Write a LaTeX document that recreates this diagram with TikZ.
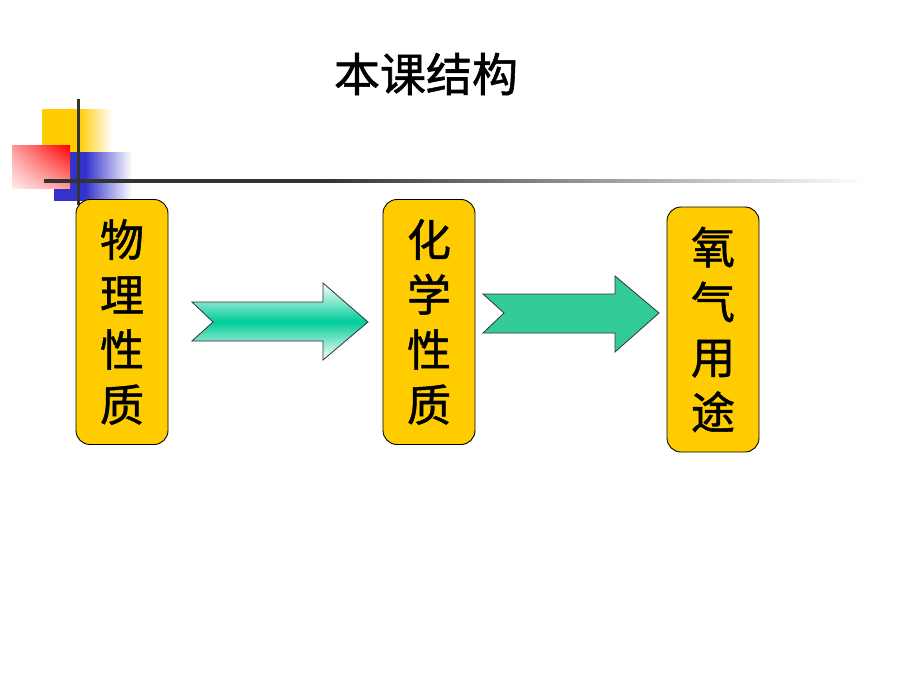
\documentclass[tikz,border=0pt]{standalone}
\usepackage{fontspec}
\newfontfamily\cjk{Noto Sans CJK SC}[FakeBold=1.2]
\usetikzlibrary{shadings}
\definecolor{boxyellow}{RGB}{255,204,0}
\definecolor{deckred}{RGB}{255,0,0}
\definecolor{deckblue}{RGB}{51,51,204}
\definecolor{linegray}{RGB}{51,51,51}
\definecolor{arrowgreen}{RGB}{0,204,153}
\definecolor{arrowgreenB}{RGB}{51,204,153}
\pgfdeclarehorizontalshading{linefade}{100bp}{color(0bp)=(linegray); color(42bp)=(linegray); color(75bp)=(white); color(100bp)=(white)}
\pgfdeclarehorizontalshading{yellowfade}{100bp}{color(0bp)=(boxyellow); color(51bp)=(boxyellow); color(75bp)=(white); color(100bp)=(white)}
\pgfdeclarehorizontalshading{bluefade}{100bp}{color(0bp)=(deckblue); color(45bp)=(deckblue); color(75bp)=(white); color(100bp)=(white)}
\tikzset{
  textbox/.style={draw=black, line width=0.9pt, fill=boxyellow, rounded corners=14pt,
    minimum width=92pt, minimum height=245pt, inner sep=0pt, align=center,
    font=\cjk\fontsize{44}{55}\selectfont},
  blockarrow/.style={draw=linegray, line width=0.8pt}
}
\begin{document}
\begin{tikzpicture}[x=1pt,y=-1pt]
\useasboundingbox[fill=white] (0,0) rectangle (920,690);
% decoration
\shade[shading=yellowfade] (42,110) rectangle (112,153);
\shade[shading=bluefade] (54,152) rectangle (132,200);
\shade[upper right=deckred, lower left=red!8, upper left=red!40, lower right=red!40] (12,145) rectangle (70,188);
\shade[shading=linefade] (44,179.5) rectangle (866,182.5);
\draw[linegray, line width=3pt] (78,99) -- (78,205);
% title
\node[font=\cjk\fontsize{46}{50}\selectfont] (title) at (426,74) {本课结构};
% boxes
\node[textbox] (b1) at (122,322) {物\\理\\性\\质};
\node[textbox] (b2) at (429,322) {化\\学\\性\\质};
\node[textbox] (b3) at (713,329.5) {氧\\气\\用\\途};
% arrows
\shade[blockarrow, top color=white, bottom color=white, middle color=arrowgreen]
  (192,302) -- (323,302) -- (323,283) -- (368,322) -- (323,360) -- (323,341) -- (192,341) -- (213,322) -- cycle;
\filldraw[blockarrow, fill=arrowgreenB]
  (483,294) -- (615,294) -- (615,276) -- (659,313) -- (615,352) -- (615,333) -- (483,333) -- (504,313) -- cycle;
\end{tikzpicture}
\end{document}
